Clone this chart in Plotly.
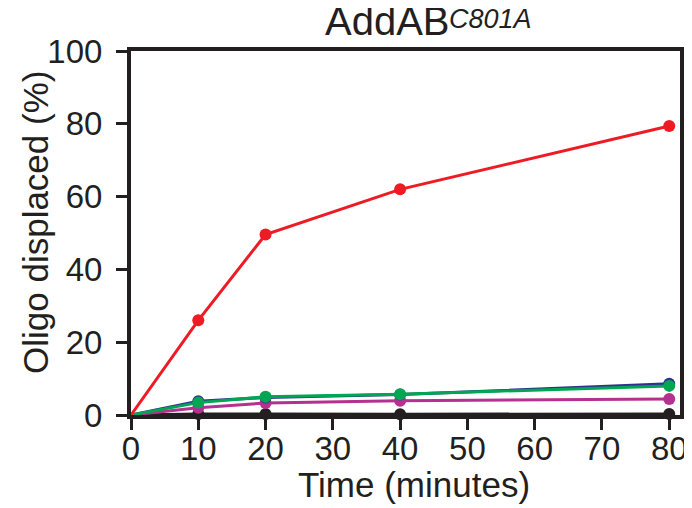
import plotly.graph_objects as go

time_min = [0, 10, 20, 40, 80]
red_vals = [0, 26.0, 49.6, 62.0, 79.4]
blue_vals = [0, 3.8, 4.8, 5.6, 8.6]
green_vals = [0, 3.4, 5.0, 5.7, 8.0]
magenta_vals = [0, 2.0, 3.3, 3.9, 4.4]
black_vals = [0, 0.3, 0.3, 0.2, 0.3]

title_main = "AddAB"
title_sup = "C801A"

series = [
    ("black", black_vals, "#231f20"),
    ("magenta", magenta_vals, "#b5318f"),
    ("blue", blue_vals, "#2e3192"),
    ("green", green_vals, "#00a651"),
    ("red", red_vals, "#ed1c24"),
]

fig = go.Figure()
for name, vals, col in series:
    fig.add_trace(go.Scatter(
        x=time_min, y=vals, mode="lines+markers", name=name,
        line=dict(color=col, width=3),
        marker=dict(color=col, size=[0, 12, 12, 12, 12], opacity=1,
                    line=dict(width=0)),
        cliponaxis=False, showlegend=False,
    ))

font = "Liberation Sans, Arial, Helvetica, sans-serif"
fig.update_layout(
    width=692, height=508,
    paper_bgcolor="white", plot_bgcolor="white",
    margin=dict(l=123, r=20, t=43, b=101),
    font=dict(family=font, color="#231f20"),
    annotations=[
        dict(text=title_main, showarrow=False,
             xref="paper", yref="paper", x=0.3497, y=1.0165,
             xanchor="left", yanchor="bottom", font=dict(size=40)),
        dict(text="<i>" + title_sup + "</i>", showarrow=False,
             xref="paper", yref="paper", x=0.5758, y=1.0412,
             xanchor="left", yanchor="bottom", font=dict(size=27)),
        dict(text="Oligo displaced (%)", textangle=-90, showarrow=False,
             xref="paper", yref="paper", x=-0.175, y=0.530,
             xanchor="center", yanchor="middle", font=dict(size=35)),
        dict(text="Time (minutes)", showarrow=False,
             xref="paper", yref="paper", x=0.5155, y=-0.1896,
             xanchor="center", yanchor="middle", font=dict(size=35)),
    ],
)
fig.update_xaxes(
    range=[0, 81.6], tickvals=[0, 10, 20, 30, 40, 50, 60, 70, 80],
    ticks="outside", ticklen=11, tickwidth=3, tickcolor="#231f20",
    showline=True, linewidth=4, linecolor="#231f20", mirror=True,
    showgrid=False, zeroline=False, automargin=False, ticklabelstandoff=-10,
    tickfont=dict(size=33),
)
fig.update_yaxes(
    range=[0, 100], tickvals=[0, 20, 40, 60, 80, 100],
    ticks="outside", ticklen=11, tickwidth=3, tickcolor="#231f20",
    showline=True, linewidth=4, linecolor="#231f20", mirror=True,
    showgrid=False, zeroline=False, automargin=False, ticklabelstandoff=7,
    tickfont=dict(size=33),
)
fig.write_html("out.html")
